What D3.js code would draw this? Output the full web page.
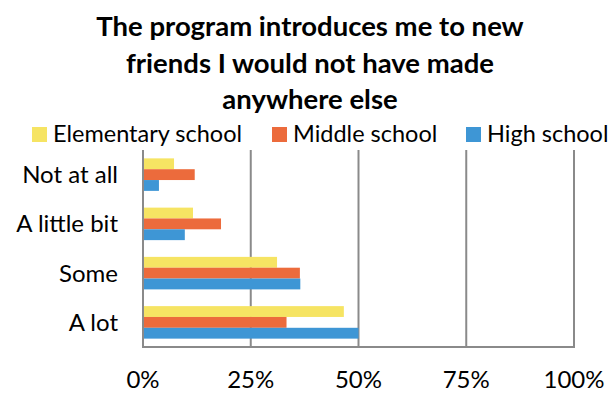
<!DOCTYPE html>
<html>
<head>
<meta charset="utf-8">
<script src="https://cdn.jsdelivr.net/npm/d3@7"></script>
<style>
  html, body { margin: 0; padding: 0; background: #fff; }
  svg { display: block; }
  text { font-family: Lato, "Open Sans", sans-serif; fill: #000; }
</style>
</head>
<body>
<svg id="chart" width="613" height="393"></svg>
<script>
// Survey answers, top to bottom
const categories = ["Not at all", "A little bit", "Some", "A lot"];
const seriesNames = ["Elementary school", "Middle school", "High school"];
const elementary = [7.2, 11.6, 31.1, 46.6];
const middle = [12.0, 18.1, 36.4, 33.3];
const high = [3.7, 9.7, 36.5, 50.0];
const tickValues = [0, 25, 50, 75, 100];
const tickLabels = ["0%", "25%", "50%", "75%", "100%"];
const colors = ["#F6E463", "#EC6B3C", "#3E96D5"];
const titleLines = ["The program introduces me to new", "friends I would not have made", "anywhere else"];

const seriesValues = [elementary, middle, high];

const svg = d3.select("#chart");
const plot = { left: 143, right: 574, top: 150, bottom: 347 };

const x = d3.scaleLinear().domain([0, 100]).range([plot.left, plot.right]);
const y = d3.scaleBand().domain(categories).range([plot.top, plot.bottom])
  .paddingInner(0.34).paddingOuter(0.17);
const ySub = d3.scaleBand().domain(d3.range(seriesNames.length)).range([0, y.bandwidth()]);

// Title
svg.append("g").selectAll("text").data(titleLines).join("text")
  .attr("x", 310)
  .attr("y", (d, i) => 36 + i * 36.5)
  .attr("text-anchor", "middle")
  .style("font-weight", "bold")
  .style("font-size", "27.5px")
  .text(d => d);

// Legend
const legendX = [32, 272, 466];
const legend = svg.append("g").selectAll("g").data(seriesNames).join("g")
  .attr("transform", (d, i) => `translate(${legendX[i]},127)`);
legend.append("rect").attr("width", 15).attr("height", 15).attr("fill", (d, i) => colors[i]);
legend.append("text").attr("x", 21).attr("y", 15)
  .style("font-size", "23.5px").text(d => d);

// Vertical gridlines (25%..100%)
svg.append("g").selectAll("line").data(tickValues.slice(1)).join("line")
  .attr("x1", d => x(d)).attr("x2", d => x(d))
  .attr("y1", plot.top).attr("y2", plot.bottom)
  .attr("stroke", "#8a8a8a").attr("stroke-width", 2);

// Bars
seriesValues.forEach((vals, si) => {
  svg.append("g").selectAll("rect").data(vals).join("rect")
    .attr("x", x(0))
    .attr("y", (d, i) => y(categories[i]) + ySub(si))
    .attr("width", d => x(d) - x(0))
    .attr("height", ySub.bandwidth())
    .attr("fill", colors[si]);
});

// Axes lines
svg.append("line").attr("x1", plot.left).attr("x2", plot.left)
  .attr("y1", plot.top).attr("y2", plot.bottom + 1)
  .attr("stroke", "#8a8a8a").attr("stroke-width", 2);
svg.append("line").attr("x1", plot.left - 1).attr("x2", plot.right + 1)
  .attr("y1", plot.bottom).attr("y2", plot.bottom)
  .attr("stroke", "#8a8a8a").attr("stroke-width", 2);

// Category labels
svg.append("g").selectAll("text").data(categories).join("text")
  .attr("x", 118)
  .attr("y", d => y(d) + y.bandwidth() / 2)
  .attr("dy", "0.35em")
  .attr("text-anchor", "end")
  .style("font-size", "24px")
  .text(d => d);

// Value axis labels
svg.append("g").selectAll("text").data(tickValues).join("text")
  .attr("x", d => x(d))
  .attr("y", 388)
  .attr("text-anchor", "middle")
  .style("font-size", "24px")
  .text((d, i) => tickLabels[i]);
</script>
</body>
</html>
